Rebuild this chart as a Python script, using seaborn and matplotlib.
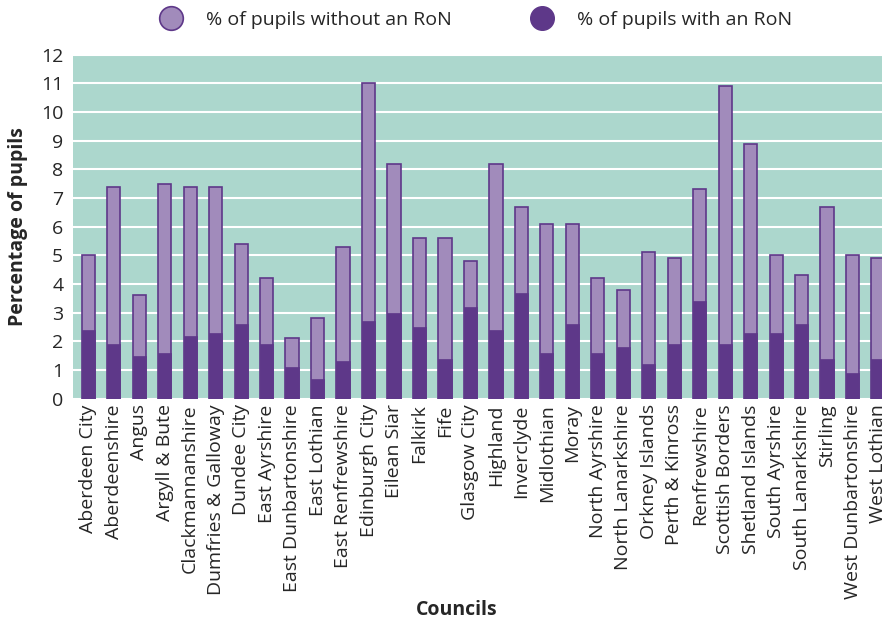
import matplotlib
matplotlib.use("Agg")
import matplotlib.pyplot as plt
from matplotlib.lines import Line2D
import seaborn as sns
import pandas as pd

councils = ["Aberdeen City", "Aberdeenshire", "Angus", "Argyll & Bute", "Clackmannanshire",
            "Dumfries & Galloway", "Dundee City", "East Ayrshire", "East Dunbartonshire",
            "East Lothian", "East Renfrewshire", "Edinburgh City", "Eilean Siar", "Falkirk",
            "Fife", "Glasgow City", "Highland", "Inverclyde", "Midlothian", "Moray",
            "North Ayrshire", "North Lanarkshire", "Orkney Islands", "Perth & Kinross",
            "Renfrewshire", "Scottish Borders", "Shetland Islands", "South Ayrshire",
            "South Lanarkshire", "Stirling", "West Dunbartonshire", "West Lothian"]
# top of each bar (with + without)
total_pct = [5.0, 7.4, 3.6, 7.5, 7.4, 7.4, 5.4, 4.2, 2.1, 2.8, 5.3, 11.0, 8.2, 5.6, 5.6, 4.8,
             8.2, 6.7, 6.1, 6.1, 4.2, 3.8, 5.1, 4.9, 7.3, 10.9, 8.9, 5.0, 4.3, 6.7, 5.0, 4.9]
with_ron = [2.4, 1.9, 1.5, 1.6, 2.2, 2.3, 2.6, 1.9, 1.1, 0.7, 1.3, 2.7, 3.0, 2.5, 1.4, 3.2,
            2.4, 3.7, 1.6, 2.6, 1.6, 1.8, 1.2, 1.9, 3.4, 1.9, 2.3, 2.3, 2.6, 1.4, 0.9, 1.4]
yticks = list(range(0, 13))
legend_labels = ["% of pupils without an RoN", "% of pupils with an RoN"]

df = pd.DataFrame({"council": councils, "total": total_pct, "with": with_ron})

LIGHT = "#a18bbb"
DARK = "#5e3889"
TEAL = "#acd7cd"
TXT = "#262626"

plt.rcParams["font.family"] = ["Open Sans", "DejaVu Sans"]

fig = plt.figure(figsize=(8.82, 6.25), dpi=100)
ax = fig.add_axes([73 / 882, 1 - 398.7 / 625, 1 - 73 / 882 + 0.001, (398.7 - 54.7) / 625])
ax.set_facecolor(TEAL)

sns.barplot(data=df, x="council", y="total", order=councils, color=LIGHT, saturation=1,
            width=0.52, edgecolor=DARK, linewidth=1.2, ax=ax, errorbar=None)
sns.barplot(data=df, x="council", y="with", order=councils, color=DARK, saturation=1,
            width=0.52, edgecolor=DARK, linewidth=0.5, ax=ax, errorbar=None)

ax.set_ylim(0, 12)
ax.set_xlim(-0.6, 31.19)
ax.set_yticks(yticks)
ax.set_yticklabels([str(t) for t in yticks], fontsize=14, color=TXT)
ax.yaxis.grid(True, color="white", linewidth=1.5)
ax.set_axisbelow(True)
ax.tick_params(axis="both", length=0)
ax.tick_params(axis="y", pad=7)
ax.tick_params(axis="x", pad=4)
plt.setp(ax.get_xticklabels(), rotation=90, fontsize=14, color=TXT)
for s in ax.spines.values():
    s.set_visible(False)

ax.set_xlabel("Councils", fontsize=14, fontweight="bold", color=TXT)
ax.xaxis.set_label_coords((456 - 73) / (882 - 73), -(610 - 398.7) / 344.0)
ax.xaxis.label.set_va("center")
ax.set_ylabel("Percentage of pupils", fontsize=14, fontweight="bold", color=TXT, labelpad=9)

handles = [
    Line2D([], [], linestyle="none", marker="o", markersize=17, markerfacecolor=LIGHT,
           markeredgecolor=DARK, markeredgewidth=1.2),
    Line2D([], [], linestyle="none", marker="o", markersize=17, markerfacecolor=DARK,
           markeredgecolor=DARK),
]
fig.legend(handles, legend_labels, loc="center", bbox_to_anchor=(0.535, 0.968), ncol=2,
           frameon=False, fontsize=14, handletextpad=0.8, columnspacing=3.6,
           labelcolor=TXT)

fig.savefig("out.png", dpi=100)
